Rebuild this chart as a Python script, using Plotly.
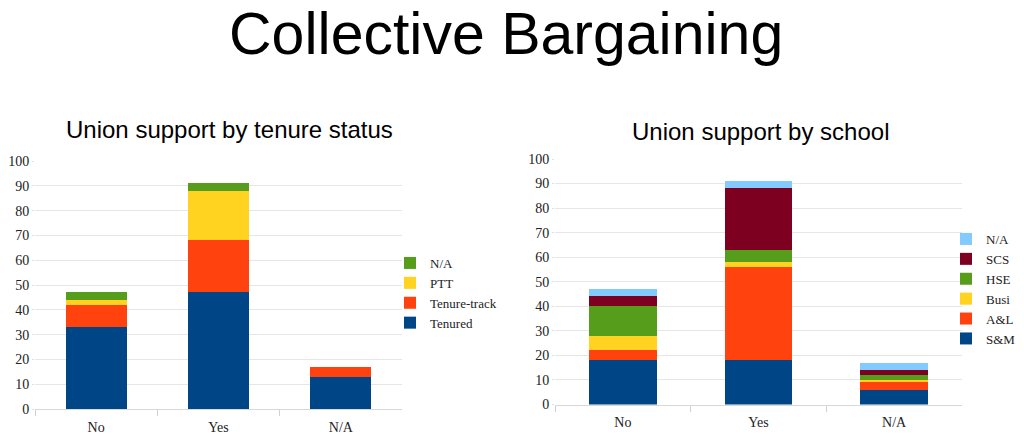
import plotly.graph_objects as go

categories = ["No", "Yes", "N/A"]
y_ticks = list(range(0, 101, 10))

# Union support by tenure status
tenure_series = ["Tenured", "Tenure-track", "PTT", "N/A"]
tenured = [33, 47, 13]
tenure_track = [9, 21, 4]
ptt = [2, 20, 0]
tenure_na = [3, 3, 0]

# Union support by school
school_series = ["S&M", "A&L", "Busi", "HSE", "SCS", "N/A"]
s_and_m = [18, 18, 6]
a_and_l = [4, 38, 3]
busi = [6, 2, 1]
hse = [12, 5, 2]
scs = [4, 25, 2]
school_na = [3, 3, 3]

BLUE, ORANGE, YELLOW, GREEN, MAROON, SKY = "#004586", "#ff420e", "#ffd320", "#579d1c", "#7e0021", "#83caff"

fig = go.Figure()

left_data = [tenured, tenure_track, ptt, tenure_na]
left_colors = [BLUE, ORANGE, YELLOW, GREEN]
for name, vals, col in zip(tenure_series, left_data, left_colors):
    fig.add_trace(go.Bar(x=categories, y=vals, name=name, marker=dict(color=col, line=dict(width=0)),
                         xaxis="x", yaxis="y", legend="legend", width=0.5))

right_data = [s_and_m, a_and_l, busi, hse, scs, school_na]
right_colors = [BLUE, ORANGE, YELLOW, GREEN, MAROON, SKY]
for name, vals, col in zip(school_series, right_data, right_colors):
    fig.add_trace(go.Bar(x=categories, y=vals, name=name, marker=dict(color=col, line=dict(width=0)),
                         xaxis="x2", yaxis="y2", legend="legend2", width=0.5))

# page body has an 8px default margin, so the figure is sized to fit the window
OFF = 8
W, H = 1024 - OFF, 434 - OFF


def px(x):
    return (x - OFF) / W


def py(y):
    return 1 - (y - OFF) / H


serif = "Liberation Serif, Times New Roman, serif"
sans = "Liberation Sans, Arial, sans-serif"

xcommon = dict(type="category", ticks="outside", tickson="boundaries", ticklen=6, tickcolor="#d0d0d0",
               showgrid=False, tickfont=dict(family=serif, size=14, color="#222"), automargin=False,
               showline=True, linecolor="#d8d8d8", linewidth=1, fixedrange=True, ticklabelstandoff=5)
ycommon = dict(range=[0, 100], tickvals=y_ticks, showgrid=True, gridcolor="#e6e6e6", gridwidth=1,
               tickfont=dict(family=serif, size=14, color="#222"), automargin=False, ticks="outside",
               ticklen=2, tickcolor="#e0e0e0", zeroline=False, fixedrange=True)

legend_common = dict(xanchor="left", yanchor="top", traceorder="reversed",
                     font=dict(family=serif, size=13, color="#222"), itemwidth=30, tracegroupgap=0,
                     bgcolor="rgba(0,0,0,0)")

fig.update_layout(
    width=W, height=H,
    margin=dict(l=0, r=0, t=0, b=0),
    paper_bgcolor="white", plot_bgcolor="white",
    barmode="stack",
    bargap=0.5,
    xaxis=dict(domain=[px(35), px(402)], anchor="y", **xcommon),
    yaxis=dict(domain=[py(409), py(161)], anchor="x", **ycommon),
    xaxis2=dict(domain=[px(555), px(962)], anchor="y2", **xcommon),
    yaxis2=dict(domain=[py(404.5), py(159)], anchor="x2", **ycommon),
    legend=dict(x=px(390), y=py(248), **legend_common),
    legend2=dict(x=px(946), y=py(224), **legend_common),
    annotations=[
        dict(text="Collective Bargaining", x=px(506), y=py(34), xref="paper", yref="paper",
             showarrow=False, font=dict(family=sans, size=59, color="black"), xanchor="center", yanchor="middle"),
        dict(text="Union support by tenure status", x=px(229), y=py(129), xref="paper", yref="paper",
             showarrow=False, font=dict(family=sans, size=24, color="black"), xanchor="center", yanchor="middle"),
        dict(text="Union support by school", x=px(760), y=py(132), xref="paper", yref="paper",
             showarrow=False, font=dict(family=sans, size=24, color="black"), xanchor="center", yanchor="middle"),
    ],
)

fig.write_html("out.html")
